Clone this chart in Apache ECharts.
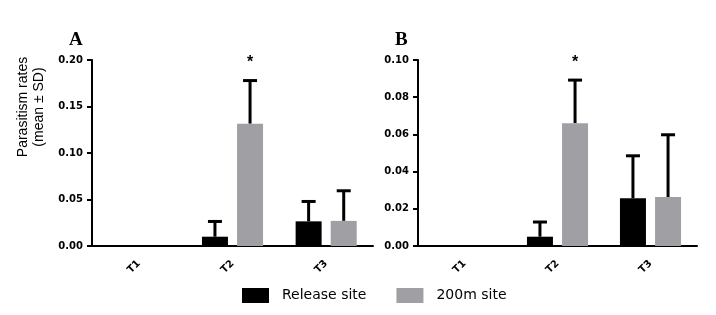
<!DOCTYPE html>
<html><head><meta charset="utf-8">
<script src="https://cdn.jsdelivr.net/npm/echarts@6/dist/echarts.min.js"></script>
<style>html,body{margin:0;padding:0;background:#fff}#c{width:716px;height:315px}</style>
</head><body><div id="c"></div>
<script>
const categories = ['T1', 'T2', 'T3'];
const seriesNames = ['Release site', '200m site'];
const releaseA = [0, 0.010, 0.0265];
const releaseSdA = [0, 0.018, 0.023];
const site200A = [0, 0.1315, 0.027];
const site200SdA = [0, 0.048, 0.034];
const releaseB = [0, 0.005, 0.0257];
const releaseSdB = [0, 0.0087, 0.0236];
const site200B = [0, 0.066, 0.0263];
const site200SdB = [0, 0.024, 0.0343];
const yTicksA = { min: 0, max: 0.20, interval: 0.05 };
const yTicksB = { min: 0, max: 0.10, interval: 0.02 };
const starA = { index: 1, value: 0.199 };
const starB = { index: 1, value: 0.0995 };
const yTitle = 'Parasitism rates\n(mean ± SD)';

const BLACK = '#000000', GRAY = '#a0a0a4';
const BW = 26, GAP = 0.35;
const OFF = (BW + BW * GAP) / 2;

function errSeries(grid, means, sds, shift) {
  return {
    type: 'custom', xAxisIndex: grid, yAxisIndex: grid, z: 1,
    data: means.map((m, i) => [i, m, m + sds[i]]).filter(d => d[2] > 0),
    renderItem: function (params, api) {
      const lo = api.coord([api.value(0), api.value(1)]);
      const hi = api.coord([api.value(0), api.value(2)]);
      const x = lo[0] + shift;
      const st = { stroke: '#000', lineWidth: 3 };
      return { type: 'group', children: [
        { type: 'line', shape: { x1: x, y1: lo[1], x2: x, y2: hi[1] + 1.5 }, style: st },
        { type: 'line', shape: { x1: x - 7, y1: hi[1] + 1.5, x2: x + 7, y2: hi[1] + 1.5 }, style: st }
      ] };
    }
  };
}
function starSeries(grid, s) {
  return {
    type: 'custom', xAxisIndex: grid, yAxisIndex: grid, z: 3,
    data: [[s.index, s.value]],
    renderItem: function (params, api) {
      const p = api.coord([api.value(0), api.value(1)]);
      return { type: 'text', x: p[0] + OFF, y: p[1] + 2,
        style: { text: '*', fontSize: 16, fontWeight: 'bold', fontFamily: 'Liberation Sans', fill: '#000', align: 'center', verticalAlign: 'middle' } };
    }
  };
}
function barSeries(grid, name, data, color) {
  return { type: 'bar', name: name, xAxisIndex: grid, yAxisIndex: grid, data: data,
    barWidth: BW, barGap: (GAP * 100) + '%', itemStyle: { color: color }, z: 2 };
}
const xAxisBase = {
  type: 'category', data: categories,
  axisLine: { lineStyle: { color: '#000', width: 2 } },
  axisTick: { alignWithLabel: true, length: 5, lineStyle: { color: '#000', width: 2 } },
  axisLabel: { rotate: 45, color: '#000', fontSize: 10, fontWeight: 'bold', fontFamily: 'DejaVu Sans', margin: 16 }
};
function yAxisBase(t) {
  return {
    type: 'value', min: t.min, max: t.max, interval: t.interval,
    splitLine: { show: false },
    axisLine: { show: true, lineStyle: { color: '#000', width: 2 } },
    axisTick: { show: true, length: 5, lineStyle: { color: '#000', width: 2 } },
    axisLabel: { color: '#000', fontSize: 10, fontWeight: 'bold', fontFamily: 'DejaVu Sans', margin: 9,
      formatter: v => v.toFixed(2) }
  };
}
const chart = echarts.init(document.getElementById('c'), null, { renderer: 'canvas' });
chart.setOption({
  animation: false,
  title: [
    { text: 'A', left: 69, top: 31, padding: 0, textStyle: { fontFamily: 'Liberation Serif', fontSize: 19, fontWeight: 'bold', color: '#000' } },
    { text: 'B', left: 395, top: 31, padding: 0, textStyle: { fontFamily: 'Liberation Serif', fontSize: 19, fontWeight: 'bold', color: '#000' } }
  ],
  graphic: [{
    type: 'text', x: 31, y: 107, rotation: Math.PI / 2,
    style: { text: yTitle, fontFamily: 'Liberation Sans', fontSize: 14, lineHeight: 16, fill: '#000', align: 'center', verticalAlign: 'middle' }
  }],
  grid: [
    { left: 92, width: 281, top: 60, height: 186 },
    { left: 418, width: 279, top: 60, height: 186 }
  ],
  legend: {
    data: seriesNames, left: 242, top: 288, padding: 0, itemWidth: 27, itemHeight: 15, itemGap: 30,
    icon: 'rect',
    textStyle: { fontFamily: 'DejaVu Sans', fontSize: 14, color: '#000', padding: [0, 0, 0, 8] }
  },
  xAxis: [Object.assign({ gridIndex: 0 }, xAxisBase), Object.assign({ gridIndex: 1 }, xAxisBase)],
  yAxis: [Object.assign({ gridIndex: 0 }, yAxisBase(yTicksA)), Object.assign({ gridIndex: 1 }, yAxisBase(yTicksB))],
  series: [
    barSeries(0, seriesNames[0], releaseA, BLACK),
    barSeries(0, seriesNames[1], site200A, GRAY),
    barSeries(1, seriesNames[0], releaseB, BLACK),
    barSeries(1, seriesNames[1], site200B, GRAY),
    errSeries(0, releaseA, releaseSdA, -OFF),
    errSeries(0, site200A, site200SdA, OFF),
    errSeries(1, releaseB, releaseSdB, -OFF),
    errSeries(1, site200B, site200SdB, OFF),
    starSeries(0, starA),
    starSeries(1, starB)
  ]
});
</script></body></html>
